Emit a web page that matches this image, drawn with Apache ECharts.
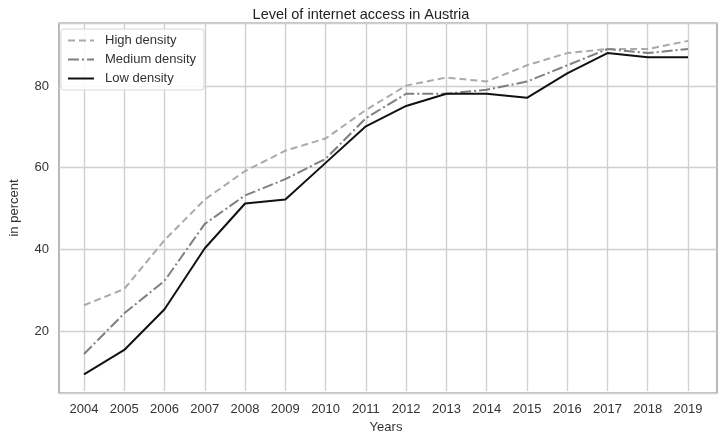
<!DOCTYPE html>
<html>
<head>
<meta charset="utf-8">
<script src="https://cdn.jsdelivr.net/npm/echarts@6/dist/echarts.min.js"></script>
<style>
    html, body { margin: 0; padding: 0; background: #fff; }
    #chart { width: 722px; height: 439px; }
</style>
</head>
<body>
<div id="chart"></div>
<script>
var years = ["2004","2005","2006","2007","2008","2009","2010","2011","2012","2013","2014","2015","2016","2017","2018","2019"];
var highDensity = [26, 30, 42, 52, 59, 64, 67, 74, 80, 82, 81, 85, 88, 89, 89, 91];
var mediumDensity = [14, 24, 32, 46, 53, 57, 62, 72, 78, 78, 79, 81, 85, 89, 88, 89];
var lowDensity = [9, 15, 25, 40, 51, 52, 61, 70, 75, 78, 78, 77, 83, 88, 87, 87];
var seriesNames = ["High density", "Medium density", "Low density"];

var fontName = "Liberation Sans, Arial, sans-serif";
var myChart = echarts.init(document.getElementById("chart"));

function makeSeries(name, data, color, type){
    return {
        name: name,
        type: "line",
        xAxisIndex: 1,
        yAxisIndex: 1,
        data: data,
        symbol: "none",
        smooth: false,
        lineStyle: { color: color, width: 2, type: type },
        itemStyle: { color: color }
    };
}

var option = {
    backgroundColor: "#fff",
    animation: false,
    title: {
        text: "Level of internet access in Austria",
        left: "center",
        top: 2,
        textStyle: { color: "#222", fontWeight: "normal", fontSize: 14.5, fontFamily: fontName }
    },
    legend: {
        orient: "vertical",
        left: 61,
        top: 29,
        padding: [5, 8, 5, 6],
        itemWidth: 26,
        itemHeight: 14,
        itemGap: 6,
        backgroundColor: "rgba(255,255,255,0.85)",
        borderColor: "#d9d9d9",
        borderWidth: 1,
        borderRadius: 3,
        data: seriesNames,
        itemStyle: { color: "transparent", borderWidth: 0, opacity: 0 },
        textStyle: { color: "#333", fontSize: 13, fontFamily: fontName, padding: [0, 0, 0, 6] }
    },
    grid: [
        { left: 53, right: 5, top: 23, bottom: 46, show: true, borderColor: "#8a8a8a", borderWidth: 1.2, backgroundColor: "transparent" },
        { left: 84, right: 34, top: 23, bottom: 46 }
    ],
    xAxis: [
        { type: "value", gridIndex: 0, min: 0, max: 1, show: false },
        {
            type: "category",
            gridIndex: 1,
            data: years,
            boundaryGap: false,
            axisLine: { show: false },
            axisTick: { show: false },
            axisLabel: { color: "#333", fontSize: 13, fontFamily: fontName, margin: 12 },
            splitLine: { show: true, lineStyle: { color: "#d0d0d0", width: 1.4 } },
            name: "Years",
            nameLocation: "middle",
            nameGap: 30,
            nameTextStyle: { color: "#333", fontSize: 13, fontFamily: fontName }
        }
    ],
    yAxis: [
        {
            type: "value",
            gridIndex: 0,
            min: 4.9,
            max: 95.4,
            splitNumber: 5,
            axisLine: { show: false },
            axisTick: { show: false },
            axisLabel: {
                color: "#333", fontSize: 13, fontFamily: fontName, margin: 10,
                formatter: function(v){ return (Math.abs(v % 20) < 1e-6) ? String(v) : ""; }
            },
            splitLine: { show: true, lineStyle: { color: "#d0d0d0", width: 1.4 } },
            name: "in percent",
            nameLocation: "middle",
            nameGap: 38,
            nameTextStyle: { color: "#333", fontSize: 13, fontFamily: fontName }
        },
        { type: "value", gridIndex: 1, min: 4.9, max: 95.4, show: false }
    ],
    series: [
        makeSeries(seriesNames[0], highDensity, "#aaaaaa", [7, 4]),
        makeSeries(seriesNames[1], mediumDensity, "#7f7f7f", [11, 3, 2, 3]),
        makeSeries(seriesNames[2], lowDensity, "#111111", "solid")
    ]
};

myChart.setOption(option);
window.onresize = myChart.resize;
</script>
</body>
</html>
